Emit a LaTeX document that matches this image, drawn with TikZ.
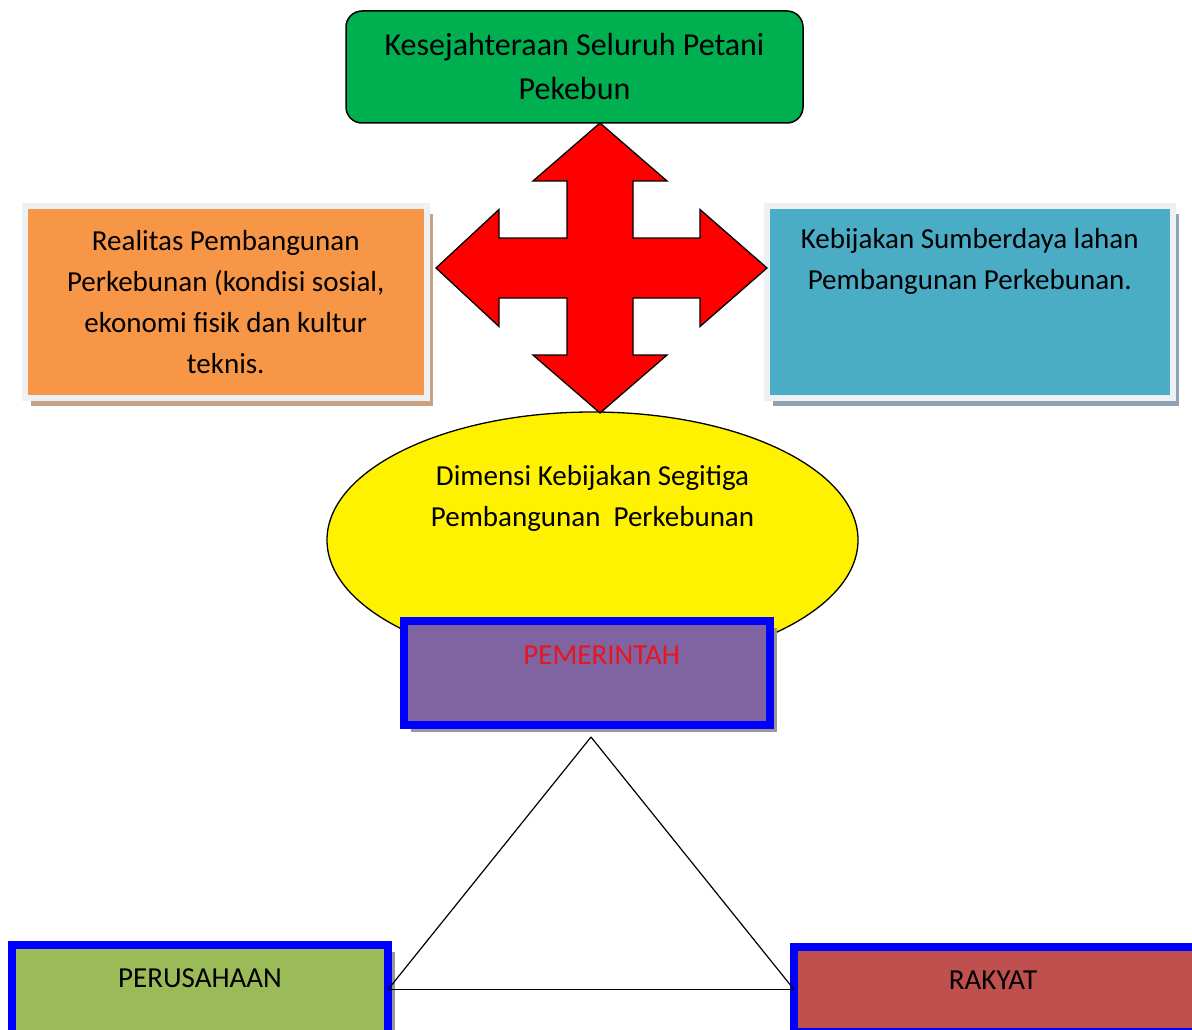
\documentclass[tikz,border=0pt]{standalone}
\usepackage{fontspec}
\setmainfont{Carlito}
\usetikzlibrary{shapes.geometric,shadows}
\definecolor{topgreen}{HTML}{00B050}
\definecolor{boxorange}{HTML}{F79646}
\definecolor{boxblue}{HTML}{4BACC6}
\definecolor{lightrim}{HTML}{EEF1F4}
\definecolor{tanshadow}{HTML}{C7A184}
\definecolor{blueshadow}{HTML}{8FA3B5}
\definecolor{govpurple}{HTML}{8064A2}
\definecolor{rimblue}{HTML}{0000FF}
\definecolor{firmgreen}{HTML}{9BBB59}
\definecolor{peoplered}{HTML}{C0504D}
\definecolor{arrowred}{HTML}{FF0000}
\definecolor{govtext}{HTML}{E8141E}
\begin{document}
\begin{tikzpicture}[x=1pt,y=-1pt,
  txt/.style={font=\fontsize{29}{41}\selectfont, align=center, text=black},
  topbox/.style={draw=black, line width=1.5pt, fill=topgreen, rounded corners=16pt,
    font=\fontsize{32}{44}\selectfont, align=center, inner sep=0pt, outer sep=0pt},
  sidebox/.style={draw=lightrim, line width=6pt, inner sep=0pt, outer sep=0pt, txt},
  actorbox/.style={draw=rimblue, line width=8pt, inner sep=0pt, outer sep=0pt,
    drop shadow={shadow xshift=7pt, shadow yshift=-7pt, fill=black!40, opacity=1}},
  tri/.style={draw=black, line width=1.2pt}
]
\useasboundingbox (0,0) rectangle (1192,1030);
\clip (0,0) rectangle (1192,1030);
\fill[white] (0,0) rectangle (1192,1030);

% top goal box
\node[topbox, minimum width=457pt, minimum height=112pt] (goal) at (574.5,67)
  {Kesejahteraan Seluruh Petani\\Pekebun};

% side boxes
\node[sidebox, fill=boxorange, minimum width=401.5pt, minimum height=192.5pt,
  drop shadow={shadow xshift=6pt, shadow yshift=-8pt, fill=tanshadow, opacity=1}]
  (real) at (225.75,301.75)
  {Realitas Pembangunan\\Perkebunan (kondisi sosial,\\ekonomi fisik dan kultur\\teknis.};

\node[sidebox, fill=boxblue, minimum width=405.5pt, minimum height=192.5pt,
  drop shadow={shadow xshift=6pt, shadow yshift=-8pt, fill=blueshadow, opacity=1},
  label={[txt, yshift=40.75pt]center:{Kebijakan Sumberdaya lahan\\Pembangunan Perkebunan.}}]
  (kebij) at (969.75,301.75) {};

% ellipse
\node[ellipse, draw=black, line width=1.3pt, fill=yellow, minimum width=531pt,
  minimum height=256pt, inner sep=0pt,
  label={[txt, yshift=42pt]center:{Dimensi Kebijakan Segitiga\\Pembangunan~~Perkebunan}}]
  (dim) at (592.5,540) {};

% four-way arrow
\draw[draw=black, line width=1.3pt, fill=arrowred, line join=miter]
  (600,123) -- (667,181) -- (633,181) -- (633,238) -- (700,238) -- (700,209.5)
  -- (767,268) -- (700,326.5) -- (700,298) -- (633,298) -- (633,355) -- (667,355)
  -- (600,413) -- (533,355) -- (567,355) -- (567,298) -- (499,298) -- (499,326.5)
  -- (436,268) -- (499,209.5) -- (499,238) -- (567,238) -- (567,181) -- (533,181)
  -- cycle;

% actors
\node[actorbox, fill=govpurple, minimum width=365.5pt, minimum height=104pt,
  label={[txt, text=govtext, xshift=15pt, yshift=18pt]center:PEMERINTAH}]
  (pem) at (586.75,673) {};

\node[actorbox, fill=firmgreen, minimum width=376pt, minimum height=89pt,
  label={[txt, yshift=11.5pt]center:PERUSAHAAN}]
  (per) at (200,989.5) {};

\node[actorbox, fill=peoplered, minimum width=406pt, minimum height=85pt,
  label={[txt, xshift=-4pt, yshift=9.5pt]center:RAKYAT}]
  (rak) at (997,989.5) {};

% triangle
\coordinate (apex) at (591,737);
\draw[tri] (apex) -- (per.east);
\draw[tri] (per.east) -- (rak.west);
\draw[tri] (rak.west) -- (apex);
\end{tikzpicture}
\end{document}
